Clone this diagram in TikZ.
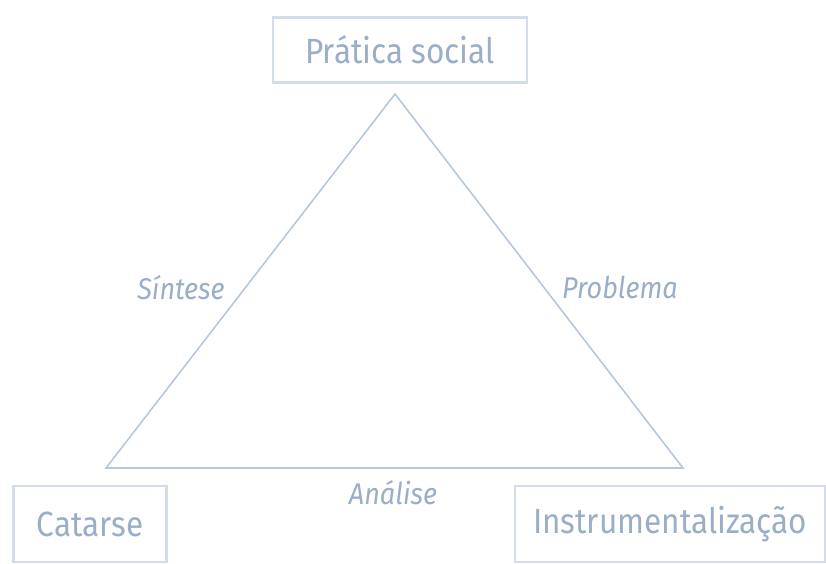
\documentclass[tikz,border=0pt]{standalone}
\usepackage{fontspec}
\setmainfont{Fira Sans}[FakeStretch=0.9]
\definecolor{boxline}{HTML}{D3DCE8}
\definecolor{txt}{HTML}{9AAEC8}
\definecolor{triline}{HTML}{B9C7DA}
\begin{document}
\begin{tikzpicture}[x=1pt,y=-1pt,
  lbox/.style={draw=boxline,line width=2.2pt,text=txt,font=\fontsize{35}{40}\selectfont,inner sep=0pt},
  lab/.style={text=txt,font=\itshape\fontsize{30}{34}\selectfont,inner sep=0pt}]
\useasboundingbox[fill=white] (0,0) rectangle (826,563);
\node[lbox,minimum width=254,minimum height=65] (ps) at (400,50) {Prática social};
\node[lbox,minimum width=153,minimum height=76] (cat) at (90,524) {Catarse};
\node[lbox,minimum width=310,minimum height=76] (ins) at (670,524) {Instrumentalização};
\coordinate (a) at (395,94);
\coordinate (b) at (106,468);
\coordinate (c) at (683,468);
\draw[triline,line width=1.6pt,line join=miter] (a) -- (b) -- (c) -- cycle;
\node[lab] (sin) at (181,288) {Síntese};
\node[lab] (pro) at (620,287) {Problema};
\node[lab] (ana) at (393,493) {Análise};
\end{tikzpicture}
\end{document}
